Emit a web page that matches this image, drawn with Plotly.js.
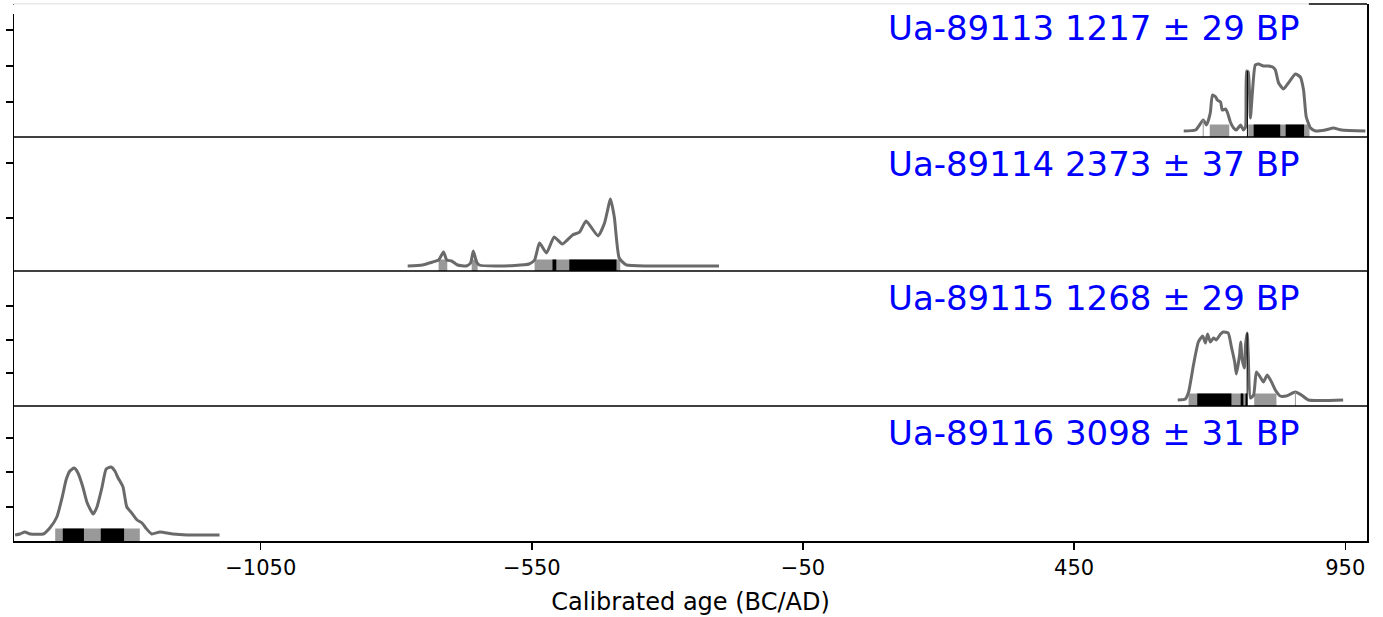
<!DOCTYPE html>
<html><head><meta charset="utf-8">
<script src="https://cdn.plot.ly/plotly-3.0.1.min.js"></script>
<style>body{margin:0;background:#fff}#chart{width:1383px;height:617px}</style>
</head><body><div id="chart"></div>
<script>
// ---- data ----
const sampleLabels = ["Ua-89113 1217 ± 29 BP", "Ua-89114 2373 ± 37 BP", "Ua-89115 1268 ± 29 BP", "Ua-89116 3098 ± 31 BP"];

const s1Age = [652,674,688,694,701,705,711,714,720,723,729,733,738,744,749,757,762,766,768,771,775,779,784,790,799,808,816,821,827,836,845,858,867,873,878,886,895,913,928,943,987];
const s1Dens = [0,0.01,0.11,0.06,0.18,0.36,0.34,0.31,0.29,0.21,0.22,0.18,0.09,0.03,0.01,0.06,0.01,0.04,0.60,0.59,0.13,0.41,0.66,0.67,0.65,0.65,0.64,0.61,0.48,0.42,0.48,0.57,0.54,0.41,0.14,0.03,0,0.01,0.03,0.01,0];
const s1Gray = [[700,736],[771,884]];
const s1Black = [[781,830],[840,874]];

const s2Age = [-779,-752,-733,-722,-713,-707,-698,-687,-671,-663,-658,-652,-647,-610,-555,-545,-536,-523,-509,-494,-475,-462,-450,-428,-416,-405,-398,-389,-376,-334,-242,-205];
const s2Dens = [0,0.01,0.04,0.06,0.14,0.06,0.05,0.01,0,0.03,0.15,0.04,0.01,0,0.02,0.06,0.23,0.13,0.29,0.22,0.31,0.34,0.45,0.30,0.43,0.67,0.49,0.08,0.01,0,0,0];
const s2Gray = [[-722,-706],[-661,-650],[-545,-387]];
const s2Black = [[-512,-505],[-481,-394]];

const s3Age = [641,655,661,670,679,687,692,696,701,707,712,720,725,734,740,746,749,755,757,760,764,766,769,771,775,781,786,793,799,806,814,821,830,841,858,869,882,946];
const s3Dens = [0,0.01,0.08,0.35,0.58,0.64,0.57,0.66,0.58,0.62,0.60,0.66,0.68,0.67,0.53,0.38,0.26,0.45,0.58,0.40,0.32,0.55,0.67,0.45,0.02,0.05,0.28,0.23,0.18,0.25,0.18,0.10,0.04,0.04,0.08,0.05,0,0];
const s3Gray = [[661,769],[782,823]];
const s3Black = [[677,740],[757,762],[766,769]];

const s4Age = [-1503,-1494,-1485,-1475,-1451,-1439,-1426,-1416,-1409,-1402,-1394,-1387,-1378,-1370,-1359,-1352,-1343,-1335,-1326,-1319,-1313,-1304,-1297,-1288,-1278,-1269,-1262,-1251,-1236,-1212,-1186,-1126];
const s4Dens = [0,0.01,0.03,0.01,0.01,0.07,0.18,0.38,0.55,0.64,0.67,0.62,0.48,0.32,0.21,0.28,0.47,0.66,0.68,0.64,0.57,0.48,0.28,0.22,0.15,0.12,0.07,0.01,0.03,0.01,0,0];
const s4Gray = [[-1429,-1273]];
const s4Black = [[-1415,-1376],[-1345,-1302]];

// thin boundary marks: [age, top density]
const s1GrayMarks = [[688,0.11]];
const s1BlackMarks = [[769.5,0.60]];
const s3GrayMarks = [[858,0.08]];
const s3BlackMarks = [[769,0.67]];

const xTickVals = [-1050,-550,-50,450,950];
const xTickText = ["\u22121050","\u2212550","\u221250","450","950"];
const yTicks = [[0.29,0.65,1.01],[0.48,1.03],[0.27,0.60,0.94],[0.28,0.63,0.97]];
const yRanges = [[-0.06,1.27],[-0.05,1.29],[-0.06,1.29],[-0.06,1.29]];

// ---- build ----
const curves = [[s1Age,s1Dens],[s2Age,s2Dens],[s3Age,s3Dens],[s4Age,s4Dens]];
const grays = [s1Gray,s2Gray,s3Gray,s4Gray];
const blacks = [s1Black,s2Black,s3Black,s4Black];
const grayMarks = [s1GrayMarks,[],s3GrayMarks,[]];
const blackMarks = [s1BlackMarks,[],s3BlackMarks,[]];
const yIds = ['y4','y3','y2','y'];
const domains = [[0.7523,1],[0.5028,0.7523],[0.2514,0.5028],[0,0.2514]];
const labelOffsets = [24,27,27,27];

function barTrace(segs, color, yid){
  return {type:'bar', orientation:'h', yaxis:yid, xaxis:'x',
    y: segs.map(()=>0), base: segs.map(s=>s[0]), x: segs.map(s=>s[1]-s[0]),
    width: segs.map(()=>0.13), marker:{color:color, line:{width:0}},
    hoverinfo:'skip', showlegend:false};
}
function markTrace(marks, color, yid, bottom){
  const xs=[], ys=[];
  marks.forEach(m=>{xs.push(m[0],m[0],null); ys.push(bottom,m[1],null);});
  return {type:'scatter', mode:'lines', x:xs, y:ys, xaxis:'x', yaxis:yid,
    line:{color:color,width:1}, hoverinfo:'skip', showlegend:false};
}

const traces = [];
for (let i=0;i<4;i++){
  const yid = yIds[i];
  traces.push({type:'scatter', mode:'lines', x:curves[i][0], y:curves[i][1], xaxis:'x', yaxis:yid,
    line:{color:'#6a6a6a', width:3, shape:'spline', smoothing:0.5}, hoverinfo:'skip', showlegend:false});
  traces.push(barTrace(grays[i], '#999999', yid));
  traces.push(barTrace(blacks[i], '#000000', yid));
  if (grayMarks[i].length) traces.push(markTrace(grayMarks[i], '#999999', yid, yRanges[i][0]));
  if (blackMarks[i].length) traces.push(markTrace(blackMarks[i], '#000000', yid, yRanges[i][0]));
}

const fam = 'DejaVu Sans, sans-serif';
const layout = {
  width:1383, height:617,
  margin:{l:14, r:16, t:4, b:76},
  paper_bgcolor:'#fff', plot_bgcolor:'#fff',
  barmode:'overlay', showlegend:false,
  font:{family:fam, size:21, color:'#000'},
  xaxis:{range:[-1505,990], anchor:'y', showgrid:false, zeroline:false,
    showline:true, linecolor:'#000', linewidth:1.5,
    ticks:'outside', ticklen:7, tickwidth:1.5, tickcolor:'#000',
    tickmode:'array', tickvals:xTickVals, ticktext:xTickText,
    tickfont:{family:fam, size:21, color:'#000'},
    title:{text:'Calibrated age (BC/AD)', font:{family:fam, size:24, color:'#000'}, standoff:14}},
  annotations:[], shapes:[]
};
for (let i=0;i<4;i++){
  const key = yIds[i]==='y' ? 'yaxis' : 'yaxis'+yIds[i].slice(1);
  layout[key] = {domain:domains[i], range:yRanges[i], anchor:'x', showgrid:false, zeroline:false,
    showline:true, mirror:true, linecolor:'#000', linewidth:1.5,
    ticks:'outside', ticklen:7, tickwidth:1.5, tickcolor:'#000',
    tickmode:'array', tickvals:yTicks[i], showticklabels:false, fixedrange:true};
  layout.annotations.push({xref:'paper', yref:'paper', x:0.798, y:domains[i][1]-labelOffsets[i]/537,
    xanchor:'center', yanchor:'middle', showarrow:false, text:sampleLabels[i],
    font:{family:fam, size:34, color:'#0000ff'}});
  if (i>0) layout.shapes.push({type:'line', xref:'paper', yref:'paper', x0:0, x1:1,
    y0:domains[i][1], y1:domains[i][1], line:{color:'#000', width:1.5}});
}
// top border: partly washed out by a cropped title box
layout.shapes.push({type:'line', xref:'paper', yref:'paper', x0:0, x1:0.957, y0:1, y1:1, line:{color:'#e2e2e2', width:1.5}});
layout.shapes.push({type:'line', xref:'paper', yref:'paper', x0:0.957, x1:1, y0:1, y1:1, line:{color:'#000', width:1.5}});
layout.shapes.push({type:'rect', xref:'paper', yref:'paper', x0:-0.005, x1:0.957, y0:1-10/537, y1:1-0.5/537,
  fillcolor:'#fff', line:{width:0}, layer:'above'});

Plotly.newPlot('chart', traces, layout, {staticPlot:true, displayModeBar:false});
</script>
</body></html>
